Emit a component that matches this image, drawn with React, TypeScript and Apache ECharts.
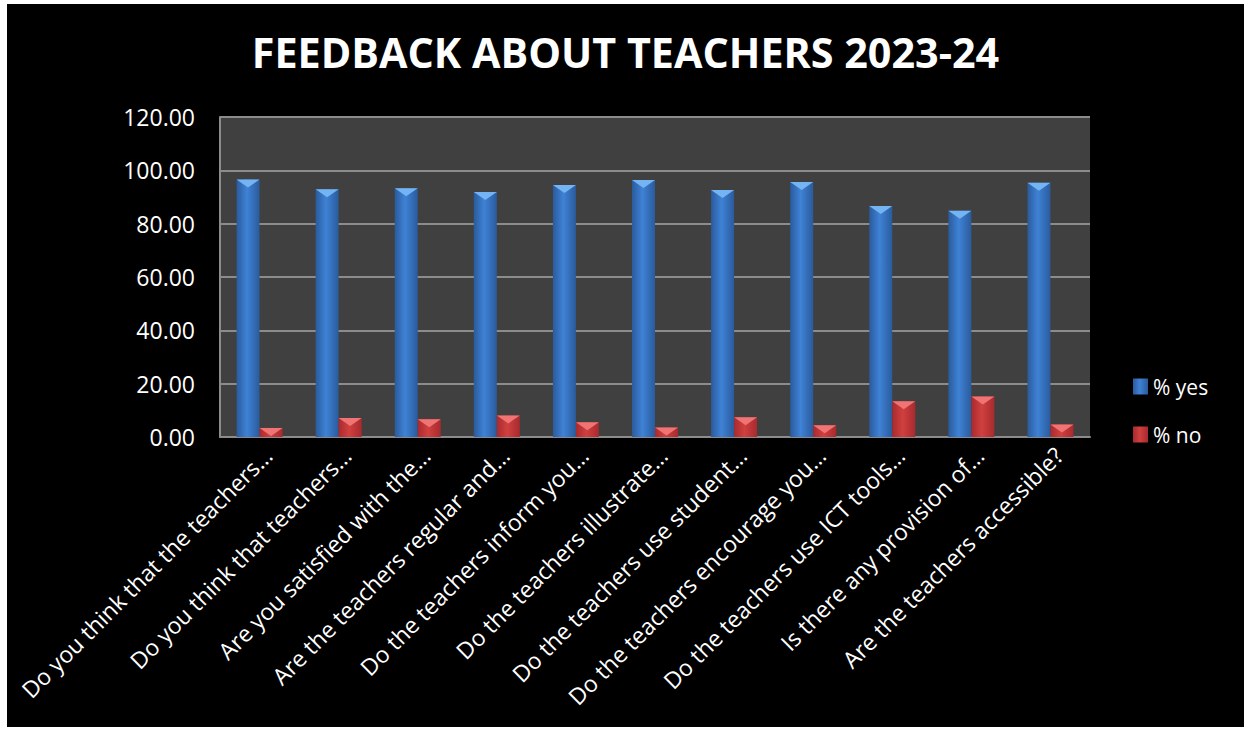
import React, { useEffect, useRef } from "react";
import * as echarts from "echarts";

const titleText = "FEEDBACK ABOUT TEACHERS 2023-24";
const categories = [
  "Do you think that the teachers…",
  "Do you think that teachers…",
  "Are you satisfied with the…",
  "Are the teachers regular and…",
  "Do the teachers inform you…",
  "Do the teachers illustrate…",
  "Do the teachers use student…",
  "Do the teachers encourage you…",
  "Do the teachers use ICT tools…",
  "Is there any provision of…",
  "Are the teachers accessible?",
];
const yesValues = [96.6, 92.9, 93.3, 91.9, 94.5, 96.4, 92.6, 95.6, 86.6, 84.8, 95.3];
const noValues = [3.4, 7.1, 6.7, 8.1, 5.5, 3.6, 7.4, 4.4, 13.4, 15.2, 4.7];
const seriesNames = ["% yes", "% no"];

const FONT = "'Open Sans', 'DejaVu Sans', sans-serif";
const BAR_W = 23;
const CAP_H = 8;

function capSeries(values: number[], side: number, color: string) {
  return {
    type: "custom",
    name: "cap" + side,
    silent: true,
    z: 5,
    data: values.map((v, i) => [i, v]),
    encode: { x: 0, y: 1 },
    renderItem: (params: any, api: any) => {
      const p = api.coord([api.value(0), api.value(1)]);
      const xl = side < 0 ? p[0] - BAR_W : p[0];
      const xr = xl + BAR_W;
      return {
        type: "polygon",
        shape: {
          points: [
            [xl, p[1]],
            [xr, p[1]],
            [(xl + xr) / 2, p[1] + CAP_H],
          ],
        },
        style: { fill: color },
      };
    },
  };
}

function grad(edge: string, mid: string) {
  return new echarts.graphic.LinearGradient(0, 0, 1, 0, [
    { offset: 0, color: edge },
    { offset: 0.45, color: mid },
    { offset: 1, color: edge },
  ]);
}

export default function App() {
  const ref = useRef<HTMLDivElement>(null);
  useEffect(() => {
    if (!ref.current) return;
    const chart = echarts.init(ref.current, null, { renderer: "svg" });
    chart.setOption({
      animation: false,
      backgroundColor: "#000000",
      title: {
        text: titleText,
        left: "center",
        top: 22,
        textStyle: {
          color: "#ffffff",
          fontFamily: FONT,
          fontWeight: "bold",
          fontSize: 41.3,
        },
      },
      legend: {
        data: seriesNames,
        orient: "vertical",
        left: 1126,
        top: 372,
        padding: 0,
        itemWidth: 15,
        itemHeight: 16,
        itemGap: 27,
        itemTextGap: 7,
        icon: "rect",
        textStyle: { color: "#ffffff", fontFamily: FONT, fontSize: 21 },
      },
      grid: {
        left: 213,
        top: 113,
        width: 870,
        height: 320,
        show: true,
        backgroundColor: "#404040",
        borderWidth: 0,
      },
      xAxis: {
        type: "category",
        data: categories,
        axisLine: { show: true, lineStyle: { color: "#8c8c8c", width: 2 } },
        axisTick: { show: false },
        axisLabel: {
          rotate: 45,
          interval: 0,
          margin: 6,
          verticalAlign: "top",
          color: "#ffffff",
          fontFamily: FONT,
          fontSize: 23,
        },
      },
      yAxis: {
        type: "value",
        min: 0,
        max: 120,
        interval: 20,
        axisLine: { show: true, lineStyle: { color: "#8c8c8c", width: 2 } },
        axisTick: { show: false },
        splitLine: { lineStyle: { color: "#8c8c8c", width: 2 } },
        axisLabel: {
          color: "#ffffff",
          fontFamily: FONT,
          fontSize: 23,
          margin: 25,
          formatter: (v: number) => v.toFixed(2),
        },
      },
      series: [
        {
          name: seriesNames[0],
          type: "bar",
          data: yesValues,
          barWidth: BAR_W,
          barGap: "0%",
          itemStyle: { color: grad("#2a5b9c", "#3f82d6") },
        },
        {
          name: seriesNames[1],
          type: "bar",
          data: noValues,
          barWidth: BAR_W,
          barGap: "0%",
          itemStyle: { color: grad("#a82a2e", "#d0403f") },
        },
        capSeries(yesValues, -1, "#74b4f2"),
        capSeries(noValues, 1, "#f07474"),
      ],
    });
    return () => chart.dispose();
  }, []);
  return (
    <div
      ref={ref}
      style={{ position: "fixed", left: 7, top: 4, width: 1237, height: 723 }}
    />
  );
}
